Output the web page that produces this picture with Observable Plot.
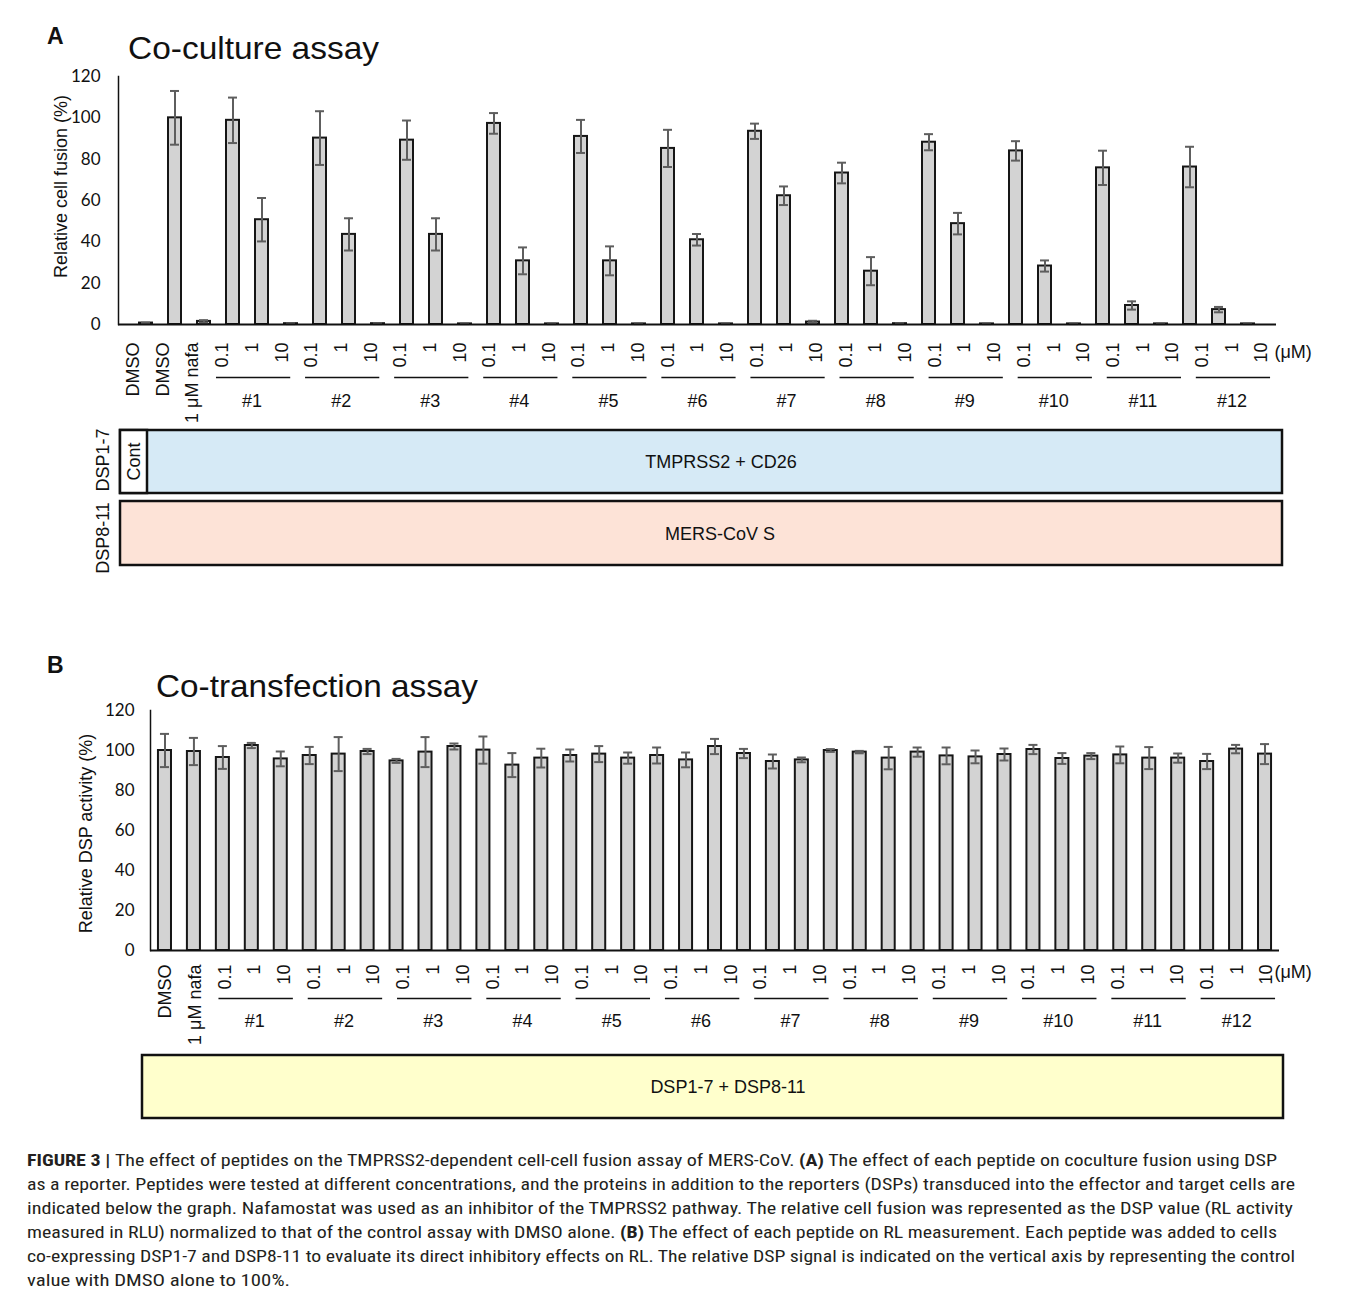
<!DOCTYPE html>
<html><head><meta charset="utf-8">
<script src="https://cdn.jsdelivr.net/npm/d3@7"></script>
<script src="https://cdn.jsdelivr.net/npm/@observablehq/plot@0.6"></script>
<style>
html,body{margin:0;padding:0;background:#fff;}
#page{position:relative;width:1354px;height:1304px;overflow:hidden;background:#fff;}
#page > svg{position:absolute;left:0;}
</style></head><body><div id="page"></div>
<script>
// ---------- data ----------
const peptides = ["#1","#2","#3","#4","#5","#6","#7","#8","#9","#10","#11","#12"];
const doses = ["0.1","1","10"];
const controls = ["DMSO (no effector)","DMSO","1 μM nafa"];
const conditions = controls.concat(peptides.flatMap(p => doses.map(d => p + " " + d + " μM")));

// Panel A: relative cell fusion (%) and error
const fusion = [0.7, 100, 1.5, 98.8, 50.7, 0.4, 90.2, 43.6, 0.4, 89.2, 43.6, 0.3, 97.3, 30.8, 0.3, 91.0, 30.8, 0.3, 85.2, 41.0, 0.3, 93.5, 62.3, 1.2, 73.3, 25.8, 0.4, 88.2, 48.8, 0.3, 84.0, 28.3, 0.3, 75.8, 9.2, 0.3, 76.2, 7.2, 0.3];
const fusionErr = [0.2, 13, 0.6, 11, 10.5, 0.2, 13, 7.8, 0.2, 9.5, 7.8, 0.1, 5, 6.5, 0.1, 8, 7, 0.1, 9, 2.8, 0.1, 3.7, 4.5, 0.6, 5, 6.8, 0.2, 3.9, 5.2, 0.1, 4.7, 2.7, 0.1, 8.3, 2, 0.1, 9.8, 1.3, 0.1];

// Panel B: relative DSP activity (%) and error
const activity = [100, 99.5, 96.5, 102.5, 95.8, 97.5, 98.2, 99.5, 94.8, 99.2, 102, 100.2, 92.7, 96.2, 97.5, 98.2, 96.2, 97.5, 95.3, 102, 98.5, 94.5, 95.3, 100, 99.2, 96.2, 99.2, 97.3, 96.8, 98, 100.5, 96, 97.2, 97.8, 96.2, 96.2, 94.5, 100.7, 98.2];
const activityErr = [8.3, 6.8, 5.7, 1.3, 3.7, 4.3, 8.5, 1.3, 1, 7.5, 1.5, 6.8, 6, 4.7, 3, 4, 2.8, 4, 3.7, 3.8, 2.3, 3.5, 1.2, 0.7, 0.6, 5.6, 2.3, 4.2, 3.2, 3, 2.3, 2.7, 1.5, 4.2, 5.5, 2.3, 3.8, 2.1, 5];

// tick labels
const yTicks = [0, 20, 40, 60, 80, 100, 120];
const labelsA = ["DMSO","DMSO","1 μM nafa"].concat(peptides.flatMap(() => doses));
const labelsB = ["DMSO","1 μM nafa"].concat(peptides.flatMap(() => doses));
const unitLabel = "(μM)";

// ---------- helpers ----------
const page = document.getElementById("page");
const place = (el, top) => { el.style.position = "absolute"; el.style.top = top + "px"; el.style.left = "0px"; page.appendChild(el); };
const W = 1354;
const ARIAL = "'Liberation Sans', Arial, sans-serif";
const TICKFONT = "Lato, 'Liberation Sans Narrow', sans-serif";

function barPanel({values, errs, height, mt, mb, ml, mr, ylabel, ldx, ldy, tickPad}) {
  const data = conditions.map((c, i) => ({c, v: values[i], e: Math.min(errs[i], values[i])}));
  return Plot.plot({
    width: W, height, marginTop: mt, marginBottom: mb, marginLeft: ml, marginRight: mr,
    style: {background: "transparent", fontFamily: TICKFONT, fontSize: "16px", color: "#111"},
    x: {type: "band", domain: conditions, paddingInner: 0.55, paddingOuter: 0.275, axis: null},
    y: {domain: [0, 120], axis: null},
    marks: [
      Plot.barY(data, {x: "c", y: "v", fill: "#d3d3d3", stroke: "#161616", strokeWidth: 2}),
      Plot.ruleX(data, {x: "c", y1: d => d.v - d.e, y2: d => d.v + d.e, stroke: "#5e5e5e", strokeWidth: 2}),
      Plot.tickY(data, {x: "c", y: d => d.v + d.e, stroke: "#5e5e5e", strokeWidth: 2, inset: 2}),
      Plot.tickY(data, {x: "c", y: d => d.v - d.e, stroke: "#5e5e5e", strokeWidth: 2, inset: 2}),
      Plot.ruleY([0], {stroke: "#111", strokeWidth: 2.2}),
      Plot.frame({anchor: "left", stroke: "#111", strokeWidth: 1.5}),
      Plot.axisY({ticks: yTicks, tickSize: 0, tickPadding: tickPad, fontSize: 17, label: null, fill: "#111"}),
      Plot.text([ylabel], {frameAnchor: "left", dx: ldx, dy: ldy, rotate: -90, textAnchor: "middle", lineAnchor: "middle", fontSize: 18, fontFamily: ARIAL, fill: "#111"})
    ]
  });
}

function labelStrip({labels, firstGroup, height, mt, mb, ml, mr, groupDy, unitDy, unitDx}) {
  const groups = peptides.map((p, k) => ({name: p, start: firstGroup + 3 * k}));
  const n = labels.length;
  return Plot.plot({
    width: W, height, marginTop: mt, marginBottom: mb, marginLeft: ml, marginRight: mr,
    style: {background: "transparent", fontFamily: ARIAL, color: "#111"},
    x: {type: "linear", domain: [0, n], axis: null},
    y: {domain: [0, 1], axis: null},
    marks: [
      Plot.text(labels, {x: (d, i) => i + 0.5, text: d => d, frameAnchor: "top", rotate: -90, textAnchor: "end", lineAnchor: "middle", fontSize: 18, fill: "#111"}),
      Plot.ruleY(groups, {x1: d => d.start + 0.3, x2: d => d.start + 2.8, y: 0, stroke: "#111", strokeWidth: 1.5}),
      Plot.text(groups, {x: d => d.start + 1.5, text: "name", frameAnchor: "bottom", dy: groupDy, lineAnchor: "middle", fontSize: 18, fill: "#111"}),
      Plot.text([unitLabel], {x: n, text: d => d, frameAnchor: "top", dx: unitDx, dy: unitDy, textAnchor: "start", lineAnchor: "middle", fontSize: 18, fill: "#111"})
    ]
  });
}

// ---------- panel A ----------
place(barPanel({values: fusion, errs: fusionErr, height: 340, mt: 76, mb: 16, ml: 118, mr: 78,
  ylabel: "Relative cell fusion (%)", ldx: -57, ldy: -14, tickPad: 18}), 0);
place(labelStrip({labels: labelsA, firstGroup: 3, height: 100, mt: 12, mb: 53, ml: 118, mr: 78, groupDy: 24, unitDy: 10, unitDx: -2}), 330);

// ---------- panel B ----------
place(barPanel({values: activity, errs: activityErr, height: 310, mt: 60, mb: 10, ml: 150, mr: 75,
  ylabel: "Relative DSP activity (%)", ldx: -64, ldy: 3, tickPad: 16}), 650);
place(labelStrip({labels: labelsB, firstGroup: 2, height: 100, mt: 14, mb: 52, ml: 150, mr: 73, groupDy: 23, unitDy: 8, unitDx: -7}), 950);

// ---------- annotations: panel letters, titles, construct boxes, caption ----------
const ns = "http://www.w3.org/2000/svg";
const ann = document.createElementNS(ns, "svg");
ann.setAttribute("width", W); ann.setAttribute("height", 1304);
ann.innerHTML = `
<g font-family="${ARIAL}" fill="#111">
  <text x="47" y="44" font-size="23" font-weight="bold">A</text>
  <text x="128" y="59" font-size="32" textLength="251" lengthAdjust="spacingAndGlyphs">Co-culture assay</text>
  <text x="47" y="673" font-size="23" font-weight="bold">B</text>
  <text x="156" y="697" font-size="32" textLength="322" lengthAdjust="spacingAndGlyphs">Co-transfection assay</text>

  <rect x="120" y="430" width="1162" height="63" fill="#d6eaf6" stroke="#111" stroke-width="2.5"/>
  <rect x="120" y="430" width="27" height="63" fill="#fff" stroke="#111" stroke-width="2.5"/>
  <text transform="translate(140,461.5) rotate(-90)" text-anchor="middle" font-size="18">Cont</text>
  <text transform="translate(109,460) rotate(-90)" text-anchor="middle" font-size="18">DSP1-7</text>
  <text x="721" y="468" text-anchor="middle" font-size="18">TMPRSS2 + CD26</text>

  <rect x="120" y="501" width="1162" height="64" fill="#fde3d7" stroke="#111" stroke-width="2.5"/>
  <text transform="translate(109,538) rotate(-90)" text-anchor="middle" font-size="18">DSP8-11</text>
  <text x="720" y="539.5" text-anchor="middle" font-size="18">MERS-CoV S</text>

  <rect x="142" y="1055" width="1141" height="63" fill="#ffffcc" stroke="#111" stroke-width="2.5"/>
  <text x="728" y="1093" text-anchor="middle" font-size="18">DSP1-7 + DSP8-11</text>
</g>
<g font-family="'Liberation Sans Narrow', 'Roboto Condensed', 'Arial Narrow', sans-serif" font-size="17" fill="#231f20">
  <text x="27" y="1166" textLength="1250" lengthAdjust="spacingAndGlyphs"><tspan font-weight="bold">FIGURE 3 | </tspan>The effect of peptides on the TMPRSS2-dependent cell-cell fusion assay of MERS-CoV. <tspan font-weight="bold">(A)</tspan> The effect of each peptide on coculture fusion using DSP</text>
  <text x="27" y="1190" textLength="1268" lengthAdjust="spacingAndGlyphs">as a reporter. Peptides were tested at different concentrations, and the proteins in addition to the reporters (DSPs) transduced into the effector and target cells are</text>
  <text x="27" y="1214" textLength="1266" lengthAdjust="spacingAndGlyphs">indicated below the graph. Nafamostat was used as an inhibitor of the TMPRSS2 pathway. The relative cell fusion was represented as the DSP value (RL activity</text>
  <text x="27" y="1238" textLength="1250" lengthAdjust="spacingAndGlyphs">measured in RLU) normalized to that of the control assay with DMSO alone. <tspan font-weight="bold">(B)</tspan> The effect of each peptide on RL measurement. Each peptide was added to cells</text>
  <text x="27" y="1262" textLength="1268" lengthAdjust="spacingAndGlyphs">co-expressing DSP1-7 and DSP8-11 to evaluate its direct inhibitory effects on RL. The relative DSP signal is indicated on the vertical axis by representing the control</text>
  <text x="27" y="1286" textLength="263" lengthAdjust="spacingAndGlyphs">value with DMSO alone to 100%.</text>
</g>`;
place(ann, 0);
</script>
</body></html>
